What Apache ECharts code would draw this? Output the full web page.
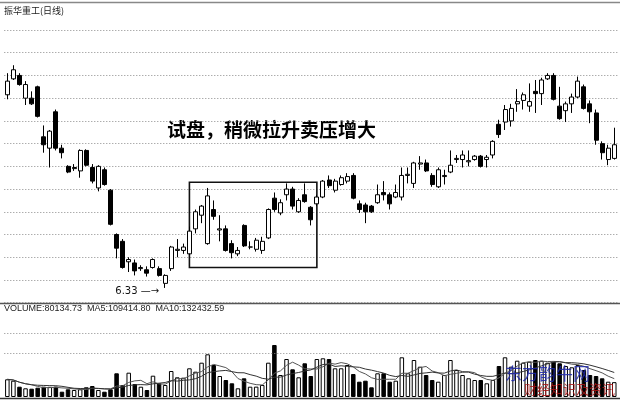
<!DOCTYPE html>
<html><head><meta charset="utf-8">
<script src="https://cdn.jsdelivr.net/npm/echarts@6/dist/echarts.min.js"></script>
<style>html,body{margin:0;padding:0;background:#fff}#c{width:620px;height:404px}</style>
</head><body><div id="c"></div>
<script>
const titleText = '振华重工(日线)';
const noteText = '试盘，稍微拉升卖压增大';
const volLabel = 'VOLUME:80134.73  MA5:109414.80  MA10:132432.59';
const lowLabel = '6.33';
const lowIndex = 26;
const boxRange = [30, 51, 7.26, 6.51];

const openP = [8.03,8.17,8.20,8.00,8.00,8.10,7.66,7.56,7.88,7.56,
7.40,7.38,7.36,7.54,7.39,7.21,7.37,7.19,6.80,6.74,
6.56,6.55,6.50,6.49,6.51,6.50,6.37,6.50,6.66,6.66,
6.63,6.85,6.97,6.72,7.02,6.84,6.85,6.72,6.63,6.88,
6.69,6.67,6.66,6.77,7.12,6.99,7.15,7.20,7.00,7.15,
7.04,7.07,7.13,7.28,7.19,7.24,7.27,7.32,7.07,7.06,
7.05,7.08,7.17,7.15,7.13,7.13,7.32,7.25,7.42,7.43,
7.32,7.22,7.31,7.35,7.46,7.46,7.44,7.46,7.49,7.46,
7.50,7.77,7.79,7.80,7.95,7.98,7.93,8.06,8.04,8.17,
8.20,7.93,7.89,7.95,8.01,8.10,7.95,7.87,7.60,7.46,7.47];
const closeP = [8.15,8.25,8.12,8.12,7.95,7.84,7.59,7.71,7.56,7.52,
7.35,7.39,7.54,7.41,7.27,7.40,7.24,6.89,6.68,6.51,
6.58,6.48,6.51,6.46,6.58,6.44,6.44,6.69,6.67,6.69,
6.83,7.00,7.05,7.14,6.96,6.85,6.66,6.64,6.66,6.70,
6.69,6.75,6.74,7.02,7.02,7.08,7.20,7.05,7.10,7.09,
6.93,7.13,7.27,7.23,7.27,7.30,7.31,7.12,7.02,7.00,
7.00,7.15,7.15,7.07,7.17,7.32,7.33,7.43,7.43,7.36,
7.24,7.37,7.32,7.41,7.47,7.50,7.45,7.49,7.40,7.48,
7.62,7.68,7.90,7.91,7.97,8.03,7.97,8.04,8.16,8.20,
7.99,7.82,7.95,8.01,8.15,7.91,7.88,7.63,7.52,7.56,7.59];
const lowP = [7.99,8.16,8.11,7.94,7.94,7.83,7.52,7.39,7.54,7.47,
7.34,7.36,7.30,7.40,7.25,7.18,7.23,6.88,6.59,6.50,
6.47,6.44,6.48,6.43,6.50,6.43,6.33,6.48,6.60,6.63,
6.62,6.81,6.90,6.71,6.93,6.74,6.65,6.59,6.61,6.69,
6.67,6.65,6.63,6.76,7.00,6.97,7.10,7.02,6.99,7.08,
6.88,7.05,7.12,7.21,7.17,7.23,7.25,7.11,6.99,6.90,
6.99,7.07,7.10,7.02,7.12,7.10,7.25,7.21,7.37,7.35,
7.22,7.21,7.24,7.34,7.43,7.39,7.40,7.45,7.39,7.39,
7.47,7.65,7.72,7.75,7.88,7.90,7.88,7.87,7.94,8.16,
7.98,7.81,7.79,7.87,8.00,7.90,7.78,7.59,7.46,7.41,7.46];
const highP = [8.22,8.29,8.22,8.15,8.06,8.11,7.76,7.72,7.90,7.59,
7.41,7.42,7.55,7.55,7.42,7.41,7.39,7.20,6.81,6.76,
6.60,6.58,6.53,6.52,6.59,6.52,6.45,6.70,6.76,6.72,
6.87,7.02,7.06,7.21,7.10,6.97,6.88,6.75,6.69,6.89,
6.74,6.77,6.78,7.03,7.17,7.11,7.25,7.22,7.12,7.25,
7.05,7.15,7.28,7.32,7.29,7.32,7.34,7.34,7.10,7.08,
7.06,7.24,7.27,7.17,7.24,7.39,7.39,7.44,7.49,7.46,
7.34,7.39,7.37,7.54,7.50,7.54,7.54,7.50,7.50,7.50,
7.63,7.81,7.94,7.95,8.08,8.05,8.13,8.16,8.18,8.22,
8.22,8.10,7.97,8.04,8.19,8.12,7.98,7.90,7.62,7.59,7.74];
const volumes = [95580,88020,55620,46980,44820,50220,55620,54800,56100,28620,
41580,37800,41600,52380,59400,37900,28600,41580,127980,64800,
131220,70200,55600,37800,115020,73980,64800,140400,106380,104220,
154980,136620,185220,230580,172800,113400,91800,73980,46980,100980,
55620,55900,64800,185220,280800,118800,205200,149580,106380,181980,
113400,205200,208980,205000,154980,155000,172800,124200,82620,88020,
52380,127980,128000,82620,88020,214380,127980,199800,163620,118800,
91800,82620,118800,199800,145800,118800,100980,91800,91850,73980,
91800,167400,214380,163620,196020,185220,190620,199800,196020,185220,
190620,181980,167400,160380,172800,145800,118800,113400,100980,82620,80135];

const categories = openP.map((_, i) => String(i + 1));
const candleData = openP.map((o, i) => [o, closeP[i], lowP[i], highP[i]]);
const volData = volumes.map((v, i) => ({
  value: v,
  itemStyle: { color: closeP[i] >= openP[i] ? '#ffffff' : '#000000', borderColor: '#000', borderWidth: 1 }
}));
function movingAvg(arr, n) {
  return arr.map((v, i) => {
    const s = arr.slice(Math.max(0, i - n + 1), i + 1);
    return s.reduce((a, b) => a + b, 0) / s.length;
  });
}
const ma5 = movingAvg(volumes, 5);
const ma10 = movingAvg(volumes, 10);

const gridLeft = 4.3, gridW = 613;
const chart = echarts.init(document.getElementById('c'), null, { renderer: 'canvas' });
chart.setOption({
  animation: false,
  backgroundColor: '#ffffff',
  grid: [
    { left: gridLeft, width: gridW, top: 30, height: 272.7 },
    { left: gridLeft, width: gridW, top: 313, height: 84 }
  ],
  xAxis: [
    { type: 'category', data: categories, gridIndex: 0, boundaryGap: true,
      axisLine: { show: false }, axisTick: { show: false }, axisLabel: { show: false }, splitLine: { show: false } },
    { type: 'category', data: categories, gridIndex: 1, boundaryGap: true,
      axisLine: { show: false }, axisTick: { show: false }, axisLabel: { show: false }, splitLine: { show: false } }
  ],
  yAxis: [
    { type: 'value', gridIndex: 0, min: 6.2, max: 8.6, interval: 0.2,
      axisLine: { show: false }, axisTick: { show: false }, axisLabel: { show: false },
      splitLine: { show: true, lineStyle: { color: '#8a8a8a', type: [1, 2], width: 1 } } },
    { type: 'value', gridIndex: 1, min: 0, max: 453600,
      axisLine: { show: false }, axisTick: { show: false }, axisLabel: { show: false }, splitLine: { show: false } }
  ],
  series: [
    {
      type: 'candlestick', xAxisIndex: 0, yAxisIndex: 0, data: candleData, barWidth: 4.5,
      itemStyle: { color: '#ffffff', color0: '#000000', borderColor: '#000000', borderColor0: '#000000', borderWidth: 1 },
      markArea: {
        silent: true,
        itemStyle: { color: 'rgba(0,0,0,0)', borderColor: '#111', borderWidth: 1.6 },
        data: [[{ coord: [categories[boxRange[0]], boxRange[2]] }, { coord: [categories[boxRange[1]], boxRange[3]] }]]
      },
      markPoint: {
        silent: true, symbol: 'circle', symbolSize: 0,
        data: [{ coord: [categories[lowIndex], lowP[lowIndex]], value: lowP[lowIndex] }],
        label: { show: true, position: 'left', offset: [-1, 3], formatter: lowLabel + ' —→', color: '#111',
          fontSize: 10, fontFamily: 'DejaVu Sans' }
      }
    },
    {
      type: 'bar', xAxisIndex: 1, yAxisIndex: 1, data: volData, barWidth: 4.5,
      markLine: {
        silent: true, symbol: ['none', 'none'], label: { show: false },
        lineStyle: { color: '#8a8a8a', type: [1, 2], width: 1 },
        data: [{ yAxis: 237600 }, { yAxis: 345600 }]
      }
    },
    { type: 'line', xAxisIndex: 1, yAxisIndex: 1, data: ma5, symbol: 'none', smooth: false,
      lineStyle: { color: '#555', width: 1 } },
    { type: 'line', xAxisIndex: 1, yAxisIndex: 1, data: ma10, symbol: 'none', smooth: false,
      lineStyle: { color: '#333', width: 1 } }
  ],
  graphic: [
    { type: 'line', shape: { x1: 0, y1: 2.5, x2: 620, y2: 2.5 }, style: { stroke: '#888', lineWidth: 1.5 } },
    { type: 'line', shape: { x1: 0, y1: 303.5, x2: 620, y2: 303.5 }, style: { stroke: '#555', lineWidth: 1.5 } },
    { type: 'line', shape: { x1: 0, y1: 398.5, x2: 620, y2: 398.5 }, style: { stroke: '#333', lineWidth: 1.5 } },
    { type: 'text', left: 4, top: 6, style: { text: titleText, fill: '#222', font: '9px "Noto Sans CJK SC"' } },
    { type: 'text', left: 4, top: 304, style: { text: volLabel, fill: '#222', font: '9px "Liberation Sans"' } },
    { type: 'text', left: 167, top: 120, style: { text: noteText, fill: '#000', font: 'bold 19px "Noto Sans CJK SC"' } },
    { type: 'text', left: 505, top: 365, z: 100, style: { text: '东方韵牛网', fill: 'rgba(30,40,170,0.85)', font: '17px "Noto Sans CJK SC"' } },
    { type: 'text', left: 524, top: 383, z: 100, style: { text: '财经知识及资讯', fill: 'rgba(170,20,20,0.85)', font: '13px "Noto Sans CJK SC"' } }
  ]
});
</script></body></html>
